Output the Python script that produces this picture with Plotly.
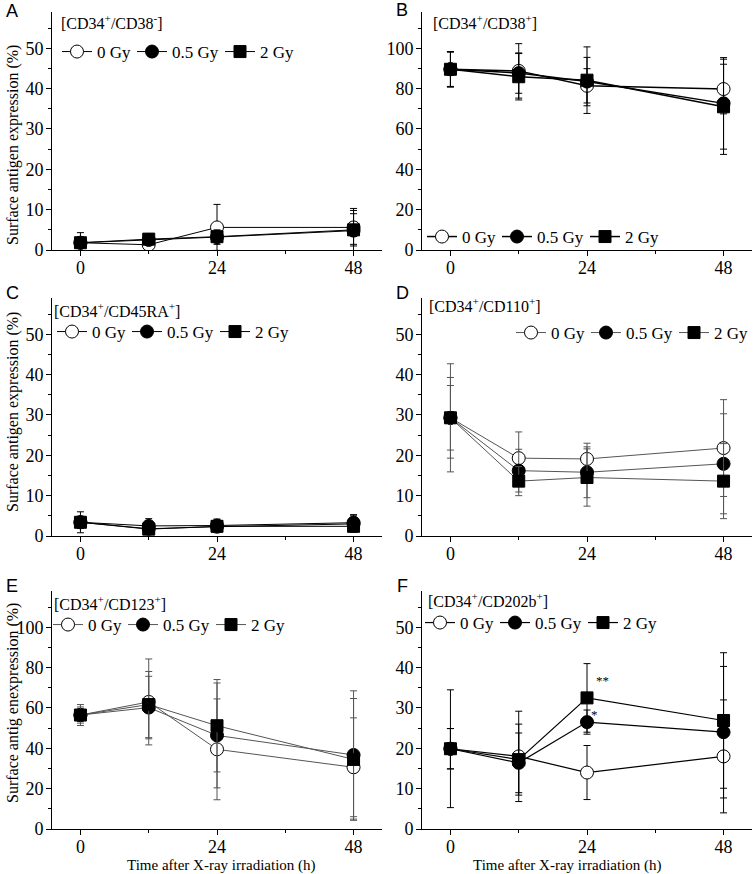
import plotly.graph_objects as go

# time points (h) and dose groups
hours = [0, 12, 24, 48]
doses = ["0 Gy", "0.5 Gy", "2 Gy"]

# A  [CD34+/CD38-]
cd38neg_mean = [[1.8, 1.3, 5.6, 5.6], [1.8, 2.5, 3.2, 4.8], [1.8, 2.7, 3.3, 5.0]]
cd38neg_err = [[2.5, 0.6, 5.7, 4.2], [1.2, 1.0, 1.8, 5.5], [1.0, 1.1, 1.5, 4.0]]

# B  [CD34+/CD38+]
cd38pos_mean = [[89.6, 88.8, 81.4, 79.8], [89.6, 87.7, 83.5, 72.7], [89.6, 85.9, 84.2, 71.0]]
cd38pos_err = [[8.7, 13.5, 8.5, 12.3], [8.5, 10.0, 12.0, 22.7], [8.8, 11.5, 16.5, 23.6]]

# C  [CD34+/CD45RA+]
cd45ra_mean = [[3.4, 1.8, 2.3, 3.0], [3.4, 2.5, 2.6, 3.3], [3.4, 1.7, 2.4, 2.4]]
cd45ra_err = [[2.6, 0.8, 1.0, 2.0], [1.5, 1.8, 1.6, 2.0], [1.0, 1.0, 1.0, 1.4]]

# D  [CD34+/CD110+]
cd110_mean = [[29.3, 19.3, 19.1, 21.8], [29.3, 16.2, 15.8, 17.9], [29.3, 13.6, 14.5, 13.6]]
cd110_err = [[13.4, 6.5, 3.9, 12.0], [10.0, 5.3, 6.3, 12.4], [8.0, 3.6, 7.1, 9.3]]

# E  [CD34+/CD123+]
cd123_mean = [[56.5, 63.0, 39.5, 30.6], [56.5, 60.2, 46.4, 36.7], [56.5, 61.7, 51.2, 34.5]]
cd123_err = [[5.2, 21.3, 25.0, 24.5], [3.0, 15.5, 26.0, 31.8], [4.0, 16.4, 22.9, 30.2]]

# F  [CD34+/CD202b+]
cd202b_mean = [[19.9, 18.0, 14.0, 18.0], [19.9, 16.4, 26.5, 24.0], [19.9, 17.2, 32.5, 26.9]]
cd202b_err = [[14.6, 11.2, 6.7, 14.0], [5.0, 7.4, 3.0, 16.3], [5.0, 8.8, 8.5, 16.8]]

panel_letters = ["A", "B", "C", "D", "E", "F"]
panel_titles = [
    "[CD34<sup>+</sup>/CD38<sup>-</sup>]",
    "[CD34<sup>+</sup>/CD38<sup>+</sup>]",
    "[CD34<sup>+</sup>/CD45RA<sup>+</sup>]",
    "[CD34<sup>+</sup>/CD110<sup>+</sup>]",
    "[CD34<sup>+</sup>/CD123<sup>+</sup>]",
    "[CD34<sup>+</sup>/CD202b<sup>+</sup>]",
]
y_titles = ["Surface antigen expression (%)", None,
            "Surface antigen expression (%)", None,
            "Surface antig enexpression (%)", None]
x_title = "Time after X-ray irradiation (h)"
star_text = ["**", "*"]
star_x = [26.8, 25.3]
star_y = [36.8, 28.4]

means = [cd38neg_mean, cd38pos_mean, cd45ra_mean, cd110_mean, cd123_mean, cd202b_mean]
errs = [cd38neg_err, cd38pos_err, cd45ra_err, cd110_err, cd123_err, cd202b_err]

W, H = 755, 874
SERIF = "Liberation Serif, Times New Roman, serif"
SANS = "Liberation Sans, Arial, sans-serif"


def fx(p):
    return p / W


def fy(p):
    return 1 - p / H


cols = [(52, 382), (422, 752)]
rows = [(12, 250), (298, 536), (591, 829)]
ymax = [59, 118, 59, 59, 118, 59]
line_col = ["black", "black", "black", "#555555", "#555555", "black"]
line_w = [1, 1.5, 1, 1, 1, 1.2]
# legend box position (x px, centre px, anchor) for each panel
leg_pos = [(57, 52, "left"), (422, 237, "left"), (52, 332, "left"),
           (755, 333, "right"), (48, 625, "left"), (420, 623, "left")]
leg_entry = [30, 43, 36]
title_pos = [(59, 22), (431, 22), (52, 310), (427, 305), (52, 603), (426, 600)]
letter_pos = [(12, 11), (402, 10), (12, 293), (402, 293), (12, 586), (402, 586)]
ytitle_mid = [145, None, 412, None, 703, None]

markers = [
    dict(symbol="circle", size=13, color="white", line=dict(color="black", width=1)),
    dict(symbol="circle", size=13, color="black", line=dict(color="black", width=1)),
    dict(symbol="square", size=12, color="black", line=dict(color="black", width=1)),
]

fig = go.Figure()
layout = dict(
    width=W, height=H, margin=dict(l=0, r=0, t=0, b=0, autoexpand=False),
    paper_bgcolor="white", plot_bgcolor="white", showlegend=True,
    font=dict(family=SERIF, size=16, color="black"),
)
annotations = []

for i in range(6):
    n = i + 1
    c0, c1 = cols[i % 2]
    r0, r1 = rows[i // 2]
    xa = "xaxis" if n == 1 else f"xaxis{n}"
    ya = "yaxis" if n == 1 else f"yaxis{n}"
    lg = "legend" if n == 1 else f"legend{n}"
    xr = "x" if n == 1 else f"x{n}"
    yr = "y" if n == 1 else f"y{n}"
    big = ymax[i] > 100
    layout[xa] = dict(
        domain=[fx(c0), fx(c1)], anchor=yr, range=[-5, 53], automargin=False,
        showline=True, linecolor="black", linewidth=1,
        tickmode="array", tickvals=[0, 24, 48], ticks="outside", ticklen=5,
        tickcolor="black", showgrid=False, zeroline=False,
        tickfont=dict(family=SERIF, size=18), ticklabelstandoff=-4,
        minor=dict(tickmode="array", tickvals=[12, 36], ticks="outside",
                   ticklen=3, tickcolor="black", showgrid=False),
    )
    layout[ya] = dict(
        domain=[fy(r1), fy(r0)], anchor=xr, range=[0, ymax[i]], automargin=False,
        showline=True, linecolor="black", linewidth=1,
        tick0=0, dtick=20 if big else 10, ticks="outside", ticklen=5,
        tickcolor="black", showgrid=False, zeroline=False,
        tickfont=dict(family=SERIF, size=18), ticklabelstandoff=-1,
        minor=dict(dtick=10 if big else 5, ticks="outside", ticklen=3,
                   tickcolor="black", showgrid=False),
    )
    lx, ly, la = leg_pos[i]
    layout[lg] = dict(
        x=fx(lx), y=fy(ly), xanchor=la, yanchor="middle",
        orientation="h", bgcolor="rgba(0,0,0,0)", borderwidth=0,
        font=dict(family=SERIF, size=17), itemwidth=30, tracegroupgap=0,
        itemclick=False,
    )

    for k in range(3):
        fig.add_trace(go.Scatter(
            x=hours, y=means[i][k], name=doses[k], mode="lines+markers",
            xaxis=xr, yaxis=yr, legend=lg, legendwidth=leg_entry[k],
            line=dict(color=line_col[i], width=line_w[i]),
            marker=markers[k],
            error_y=dict(type="data", array=errs[i][k], visible=True,
                         color=line_col[i], thickness=1, width=3.5),
        ))

    tx, ty = title_pos[i]
    annotations.append(dict(
        x=fx(tx), y=fy(ty), xref="paper", yref="paper", xanchor="left",
        yanchor="middle", text=panel_titles[i], showarrow=False,
        font=dict(family=SERIF, size=16),
    ))
    px_, py_ = letter_pos[i]
    annotations.append(dict(
        x=fx(px_), y=fy(py_), xref="paper", yref="paper", xanchor="center",
        yanchor="middle", text=panel_letters[i], showarrow=False,
        font=dict(family=SANS, size=18),
    ))
    if y_titles[i]:
        annotations.append(dict(
            x=fx(13), y=fy(ytitle_mid[i]), xref="paper", yref="paper",
            xanchor="center", yanchor="middle", text=y_titles[i],
            textangle=-90, showarrow=False, font=dict(family=SERIF, size=16),
        ))

# x-axis titles under the bottom row
for cx in [222, 567]:
    annotations.append(dict(
        x=fx(cx), y=fy(865), xref="paper", yref="paper", xanchor="center",
        yanchor="middle", text=x_title, showarrow=False,
        font=dict(family=SERIF, size=15),
    ))

# significance marks in panel F
for t, sx, sy in zip(star_text, star_x, star_y):
    annotations.append(dict(
        x=sx, y=sy, xref="x6", yref="y6", xanchor="center", yanchor="middle",
        text=t, showarrow=False, font=dict(family=SERIF, size=13, color="black"),
    ))

layout["annotations"] = annotations
fig.update_layout(**layout)
# the page body has a default 8px margin; drop it so the figure fills the window
fig.write_html("out.html", config={"displayModeBar": False},
               post_script="document.body.style.margin='0';")
